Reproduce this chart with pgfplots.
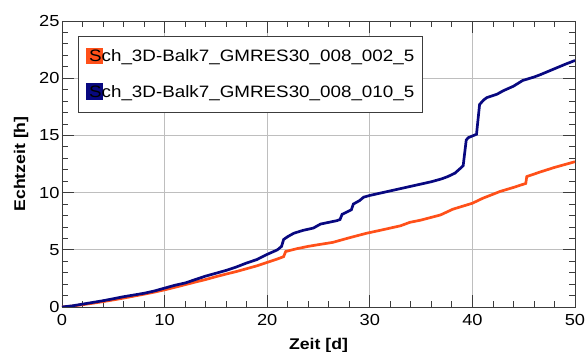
\documentclass[border=0pt]{standalone}
\usepackage{pgfplots}
\pgfplotsset{compat=1.18}
\usepackage{fontspec}
\setmainfont{Liberation Sans}[FakeStretch=1.14]
\definecolor{myorange}{RGB}{255,80,25}
\definecolor{myblue}{RGB}{8,8,128}
\definecolor{gridgray}{RGB}{190,190,190}
\definecolor{axisgray}{RGB}{60,60,60}
\begin{document}
\begin{tikzpicture}
\begin{axis}[
  scale only axis, width=513pt, height=286pt,
  xmin=0, xmax=50, ymin=0, ymax=25,
  xtick={0,10,...,50}, ytick={0,5,...,25},
  minor x tick num=4, minor y tick num=4,
  tick align=inside, major tick length=12pt, minor tick length=6pt,
  xmajorgrids, ymajorgrids,
  grid style={gridgray, line width=0.8pt},
  axis line style={axisgray, line width=0.9pt},
  every tick/.style={axisgray, line width=0.8pt},
  tick label style={font=\fontsize{16}{18}\selectfont},
  xticklabel style={yshift=-4pt},
  yticklabel style={xshift=1pt},
  /pgf/number format/assume math mode=true,
  xlabel={Zeit [d]}, ylabel={Echtzeit [h]},
  label style={font=\fontsize{15.5}{18}\selectfont\bfseries},
  xlabel style={yshift=-6pt},
  ylabel style={yshift=4pt},
  legend style={at={(rel axis cs:0.0312,0.9476)}, anchor=north west,
    draw=axisgray, line width=0.8pt, fill=white,
    font=\fontsize{16.5}{19}\selectfont, row sep=18pt,
    inner xsep=6pt, inner ysep=11.5pt},
  legend cell align=left,
]
\addplot[myorange, line width=2.7pt,
  legend image code/.code={\path (0pt,0pt); \fill[myorange,overlay] (2pt,-6.5pt) rectangle (15.5pt,7.5pt);}]
  coordinates {
(0,0) (1,0.08) (2,0.2) (3,0.33) (4,0.47) (5,0.62) (6,0.78) (7,0.95) (8,1.12) (9,1.3)
(10,1.5) (11,1.72) (12,1.95) (13,2.18) (14,2.4) (15,2.65) (16,2.88) (17,3.1) (18,3.35) (19,3.6)
(20,3.9) (21,4.2) (21.6,4.4) (21.8,4.85) (22.9,5.1) (24,5.3) (25,5.45) (26.4,5.65) (28,6.05) (29.7,6.45)
(31,6.7) (33,7.1) (33.9,7.4) (35,7.6) (36.9,8.05) (38.1,8.55) (40,9.07) (41,9.5) (42.7,10.1) (44,10.45)
(45.2,10.8) (45.3,11.4) (46.6,11.8) (48,12.2) (49.8,12.65) (50,12.7)
};
\addlegendentry{Sch\_3D-Balk7\_GMRES30\_008\_002\_5}
\addplot[myblue, line width=2.7pt,
  legend image code/.code={\path (0pt,0pt); \fill[myblue,overlay] (2pt,-6.5pt) rectangle (15.5pt,7.5pt);}]
  coordinates {
(0,0) (1,0.1) (2,0.25) (3,0.4) (4,0.55) (5,0.72) (6,0.9) (7,1.05) (8,1.2) (9,1.4)
(10,1.65) (11,1.9) (12,2.1) (13,2.4) (14,2.7) (15,2.95) (16,3.2) (17,3.5) (18,3.85) (19,4.15)
(20,4.6) (20.5,4.8) (21,5.0) (21.4,5.3) (21.6,5.9) (22,6.15) (22.6,6.45) (23.5,6.7) (24.5,6.9) (25.2,7.25)
(26,7.4) (26.8,7.55) (27.1,7.65) (27.3,8.1) (28.2,8.5) (28.4,9.0) (29,9.3) (29.4,9.6) (30,9.75) (31,9.95)
(32,10.15) (33,10.35) (34,10.55) (35,10.75) (36,10.95) (37,11.2) (37.6,11.4) (38.3,11.7) (38.8,12.1) (39.1,12.35)
(39.4,14.6) (39.6,14.8) (40.4,15.1) (40.7,17.7) (41.1,18.1) (41.4,18.3) (42.4,18.6) (43,18.9) (44,19.3) (44.9,19.8)
(46,20.1) (46.6,20.3) (48.2,20.9) (49,21.2) (50,21.55)
};
\addlegendentry{Sch\_3D-Balk7\_GMRES30\_008\_010\_5}
\end{axis}
\pgfresetboundingbox
\useasboundingbox (-62pt,-45pt) rectangle (523pt,307pt);
\end{tikzpicture}
\end{document}
